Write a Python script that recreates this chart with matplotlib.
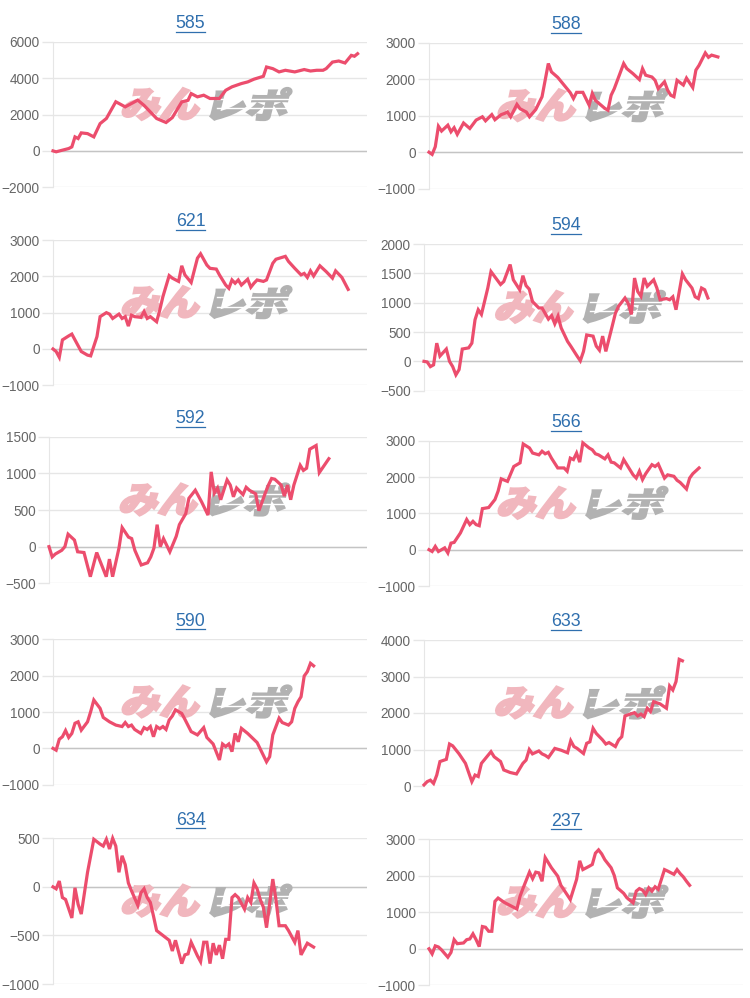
import math

import matplotlib
matplotlib.use("Agg")
import matplotlib.pyplot as plt
import matplotlib.transforms as mtransforms
from matplotlib.font_manager import FontProperties
from matplotlib.lines import Line2D
from matplotlib.patches import PathPatch
from matplotlib.textpath import TextPath

# --- data: running balance per player (day index, balance) ---
p585_day = [0, 1, 5, 6, 7, 8, 9, 11, 13, 15, 17, 20, 23, 27, 29, 33, 36, 38, 41, 43, 44, 46, 48, 50,
            53, 55, 57, 60, 62, 64, 67, 68, 70, 72, 74, 77, 80, 82, 84, 86, 87, 89, 91, 93, 95, 96, 97]
p585_pl = [0, -50, 130, 220, 770, 680, 990, 950, 770, 1500, 1780, 2700, 2420, 2790, 2500, 1780, 1560,
           1830, 2690, 2780, 3150, 2970, 3060, 2880, 2880, 3330, 3520, 3700, 3790, 3940, 4100, 4610,
           4520, 4340, 4430, 4340, 4470, 4390, 4430, 4430, 4520, 4880, 4940, 4830, 5250, 5200, 5340]

p588_day = [0, 1, 2, 3, 4, 6, 7, 8, 9, 11, 13, 15, 17, 18, 20, 21, 23, 24, 25, 26, 28, 29, 31, 32, 34,
            36, 38, 39, 41, 43, 45, 46, 47, 49, 51, 52, 53, 56, 57, 58, 59, 62, 63, 65, 67, 68, 69, 71,
            72, 73, 75, 76, 77, 78, 79, 81, 82, 84, 85, 86, 88, 89, 90, 92]
p588_pl = [0, -60, 150, 710, 580, 740, 560, 670, 490, 800, 650, 880, 970, 860, 1030, 890, 1030, 1060,
           1100, 970, 1310, 1190, 1100, 970, 1170, 1520, 2430, 2200, 2050, 1840, 1630, 1470, 1640, 1640,
           1290, 1610, 1420, 1200, 1150, 1560, 1740, 2430, 2290, 2150, 1990, 2290, 2110, 2060, 1970,
           1740, 1930, 1700, 1560, 1520, 1970, 1840, 2030, 1770, 2250, 2380, 2720, 2600, 2660, 2610]

p621_day = [0, 1, 2, 3, 5, 6, 7, 9, 11, 12, 14, 15, 17, 18, 19, 21, 22, 23, 24, 25, 26, 28, 29, 30, 31,
            33, 34, 35, 37, 38, 40, 41, 42, 44, 46, 47, 49, 50, 52, 53, 55, 56, 57, 58, 59, 60, 62, 63,
            64, 65, 67, 68, 70, 71, 74, 75, 77, 79, 80, 81, 82, 83, 85, 87, 89, 90, 92, 94]
p621_pl = [0, -70, -230, 250, 360, 410, 250, -70, -170, -190, 340, 890, 1000, 960, 840, 960, 840, 890,
           630, 930, 890, 870, 1030, 840, 890, 750, 1070, 1440, 2020, 1950, 1860, 2290, 2040, 1830, 2500,
           2620, 2310, 2220, 2200, 2040, 1760, 1670, 1900, 1810, 1900, 1760, 1920, 1700, 1810, 1900, 1860,
           1900, 2360, 2470, 2550, 2410, 2220, 2040, 2080, 1970, 2150, 2010, 2290, 2130, 1950, 2150,
           1970, 1640]

p594_day = [0, 1, 2, 3, 4, 5, 7, 8, 9, 10, 11, 12, 14, 15, 16, 17, 18, 20, 21, 24, 25, 27, 28, 30, 31,
            32, 33, 34, 36, 37, 39, 40, 41, 42, 43, 45, 46, 48, 49, 50, 51, 53, 54, 55, 56, 57, 59, 60,
            61, 63, 64, 65, 66, 67, 68, 69, 70, 72, 73, 74, 76, 77, 78, 79, 81, 82, 84, 85, 86, 87, 88, 89]
p594_pl = [0, -10, -90, -60, 310, 90, 210, 0, -90, -230, -140, 210, 230, 310, 710, 880, 800, 1250, 1530,
           1310, 1360, 1650, 1390, 1220, 1460, 1290, 1230, 1020, 910, 910, 720, 780, 640, 770, 570, 340,
           260, 90, 10, 170, 450, 430, 260, 190, 430, 170, 600, 820, 940, 1080, 990, 800, 1420, 1190,
           1110, 1420, 1280, 1390, 1250, 1050, 1070, 1050, 1100, 880, 1490, 1390, 1250, 1100, 1070,
           1250, 1220, 1080]

p592_day = [0, 1, 2, 4, 5, 6, 8, 9, 11, 13, 15, 18, 19, 20, 22, 23, 25, 26, 27, 29, 31, 32, 33, 34, 35,
            36, 38, 40, 41, 43, 44, 46, 48, 50, 51, 52, 53, 54, 56, 57, 58, 59, 61, 62, 63, 65, 66, 68,
            69, 70, 71, 73, 74, 75, 76, 77, 79, 80, 81, 82, 84, 85, 88]
p592_pl = [0, -140, -100, -50, 0, 170, 90, -70, -80, -410, -80, -410, -170, -410, -20, 260, 130, 110,
           -50, -250, -220, -140, -20, 300, 0, 110, -70, 140, 300, 450, 660, 770, 610, 430, 1020, 730,
           800, 640, 910, 840, 680, 800, 710, 810, 770, 720, 490, 730, 840, 930, 920, 840, 690, 840, 640,
           840, 1110, 1040, 1070, 1330, 1380, 1010, 1200]

p566_day = [0, 1, 2, 3, 5, 6, 7, 8, 10, 12, 13, 14, 15, 16, 17, 19, 21, 22, 23, 25, 27, 29, 30, 32, 33,
            35, 36, 37, 38, 39, 41, 43, 44, 45, 46, 47, 48, 49, 51, 52, 53, 54, 56, 57, 58, 59, 61, 62,
            63, 65, 66, 67, 68, 69, 71, 72, 73, 75, 76, 78, 79, 80, 82, 83, 84, 86]
p566_pl = [0, -50, 90, -50, 50, -90, 180, 200, 460, 830, 690, 780, 690, 660, 1130, 1160, 1380, 1610,
           1950, 1880, 2290, 2390, 2910, 2800, 2660, 2610, 2710, 2640, 2680, 2520, 2250, 2250, 2160, 2520,
           2480, 2660, 2410, 2940, 2800, 2750, 2640, 2610, 2500, 2610, 2410, 2390, 2250, 2480, 2340, 2060,
           1970, 2160, 1930, 2090, 2340, 2290, 2360, 1970, 2060, 2020, 1910, 1850, 1670, 1970, 2090, 2250]

p590_day = [0, 1, 2, 3, 4, 5, 6, 7, 8, 9, 11, 12, 13, 15, 16, 18, 20, 22, 23, 24, 25, 26, 28, 29, 30,
            31, 32, 33, 34, 35, 36, 37, 38, 39, 41, 42, 44, 46, 48, 49, 51, 53, 54, 55, 56, 57, 58, 59,
            60, 62, 65, 68, 69, 70, 72, 73, 75, 76, 77, 78, 79, 80, 81, 82, 83]
p590_pl = [0, -50, 250, 320, 490, 300, 410, 690, 730, 500, 730, 1010, 1330, 1100, 850, 730, 640, 600,
           710, 600, 640, 520, 410, 570, 520, 600, 320, 600, 540, 600, 520, 780, 890, 1060, 960, 800, 460,
           370, 570, 300, 120, -320, 120, 50, 120, -90, 410, 180, 550, 410, 160, -370, -230, 370, 830, 710,
           640, 730, 1100, 1280, 1420, 1990, 2110, 2340, 2270]

p633_day = [0, 1, 2, 3, 4, 5, 7, 8, 9, 11, 13, 15, 16, 17, 18, 21, 22, 24, 25, 27, 29, 31, 32, 33, 34,
            36, 37, 38, 39, 41, 43, 45, 46, 47, 48, 50, 51, 52, 53, 54, 56, 57, 58, 60, 61, 62, 63, 64,
            66, 67, 68, 69, 70, 71, 72, 74, 75, 76, 77, 78, 79, 80, 81]
p633_pl = [30, 120, 160, 70, 300, 670, 730, 1150, 1100, 880, 620, 120, 300, 260, 620, 940, 800, 670,
           440, 370, 330, 620, 710, 1000, 880, 960, 880, 840, 780, 1030, 980, 910, 1240, 1080, 1030, 890,
           1170, 1210, 1580, 1440, 1260, 1150, 1190, 1080, 1260, 1350, 1920, 1950, 2010, 1920, 1970, 1900,
           2130, 2040, 2310, 2250, 2190, 2130, 2740, 2630, 2860, 3470, 3430]

p634_day = [0, 1, 2, 3, 4, 6, 7, 8, 9, 11, 13, 15, 16, 17, 18, 19, 20, 21, 22, 23, 24, 25, 27, 28, 29,
            30, 31, 32, 33, 35, 37, 38, 39, 41, 42, 43, 44, 46, 47, 48, 49, 50, 51, 52, 53, 54, 55, 56,
            57, 58, 59, 61, 62, 63, 64, 65, 66, 67, 68, 70, 71, 72, 74, 75, 77, 78, 79, 81, 82, 83]
p634_pl = [0, -20, 60, -110, -130, -320, -10, -180, -280, 150, 490, 440, 420, 490, 390, 500, 420, 150,
           320, 230, 40, -40, -190, -60, -20, -110, -160, -300, -450, -500, -550, -660, -550, -790, -700,
           -690, -570, -710, -770, -570, -570, -790, -580, -700, -600, -740, -540, -540, -110, -80, -110,
           -230, -110, -160, 40, -20, -130, -210, -420, 80, -130, -400, -400, -450, -570, -450, -700,
           -580, -600, -620]

p237_day = [0, 1, 2, 3, 4, 6, 7, 8, 9, 11, 12, 13, 14, 15, 16, 17, 18, 19, 20, 21, 22, 24, 26, 28, 29,
            30, 32, 33, 34, 35, 36, 37, 39, 41, 42, 45, 47, 48, 49, 51, 52, 53, 54, 55, 56, 58, 59, 60,
            62, 63, 65, 66, 67, 68, 69, 70, 71, 72, 73, 74, 75, 76, 78, 79, 80, 81, 82, 83]
p237_pl = [0, -140, 80, 50, -30, -230, -100, 250, 140, 160, 250, 270, 410, 250, 60, 610, 590, 480, 480,
           1300, 1390, 1270, 1180, 1090, 1440, 1670, 2100, 1920, 2100, 2080, 1850, 2500, 2220, 1990, 1740,
           1350, 1900, 2410, 2170, 2260, 2310, 2620, 2710, 2600, 2440, 2220, 2010, 1670, 1520, 1400, 1260,
           1580, 1650, 1610, 1490, 1670, 1580, 1700, 1630, 1900, 2170, 2130, 2040, 2170, 2060, 1970, 1850,
           1740]

# player ids and y axis ticks (min, max, step)
players = ["585", "588", "621", "594", "592", "566", "590", "633", "634", "237"]
series = [(p585_day, p585_pl), (p588_day, p588_pl), (p621_day, p621_pl), (p594_day, p594_pl),
          (p592_day, p592_pl), (p566_day, p566_pl), (p590_day, p590_pl), (p633_day, p633_pl),
          (p634_day, p634_pl), (p237_day, p237_pl)]
y_ticks = [(-2000, 6000, 2000), (-1000, 3000, 1000), (-1000, 3000, 1000), (-500, 2000, 500),
           (-500, 1500, 500), (-1000, 3000, 1000), (-1000, 3000, 1000), (0, 4000, 1000),
           (-1000, 500, 500), (-1000, 3000, 1000)]

# --- layout (pixels in the 750x998 image: left, right, top, bottom of plot area) ---
W, H = 750, 998
boxes = [(53, 367, 41.7, 187.3), (429, 743, 42.7, 188.7),
         (53, 367, 240, 385.3), (424, 743, 244, 390.7),
         (49, 367, 436.7, 583.3), (429, 743, 440.7, 586),
         (53, 367, 639.3, 784.7), (424, 743, 640, 786),
         (53, 367, 838.3, 984), (429, 743, 839.3, 985.3)]

LINE = "#ec4d6d"
GRID = "#e6e6e6"
ZERO = "#c4c4c4"
LINK = "#2f6fae"

plt.rcParams["font.family"] = ["Liberation Sans", "DejaVu Sans"]

fig = plt.figure(figsize=(W / 100, H / 100), dpi=100)
px = mtransforms.Affine2D().scale(1 / 100) + fig.dpi_scale_trans

wm_font = FontProperties(family="Noto Sans CJK JP", weight="black")


def word_patch(ax, text, x0, x1, y_top, y_bot, color, slant=14):
    path = TextPath((0, 0), text, size=100, prop=wm_font)
    ext = path.get_extents()
    h = y_bot - y_top
    w = (x1 - x0) - h * math.tan(math.radians(slant))
    t = (mtransforms.Affine2D()
         .translate(-ext.x0, -ext.y0)
         .scale(w / ext.width, h / ext.height)
         .skew_deg(slant, 0)
         .translate(x0, H - y_bot)) + px
    patch = PathPatch(path, transform=t, facecolor=color, edgecolor=color, lw=1.6,
                      joinstyle="miter", zorder=1.5)
    ax.add_artist(patch)


titles = []
for i, (name, (day, pl), (lo, hi, step)) in enumerate(zip(players, series, y_ticks)):
    l, r, t, b = boxes[i]
    ax = fig.add_axes([l / W, 1 - b / H, (r - l) / W, (b - t) / H])
    ax.plot(day, pl, color=LINE, lw=2.3, solid_joinstyle="miter", zorder=3, clip_on=False)
    ax.set_xlim(0, 100)
    ax.set_ylim(lo, hi)
    ax.set_yticks(list(range(lo, hi + 1, step)))
    ax.set_xticks([])
    ax.grid(axis="y", color=GRID, lw=1)
    ax.set_axisbelow(True)
    if lo < 0:
        ax.axhline(0, color=ZERO, lw=1, zorder=1)
    for side in ("top", "right", "bottom"):
        ax.spines[side].set_visible(False)
    ax.spines["left"].set_color(GRID)
    ax.tick_params(axis="y", length=8, width=1, color=GRID, pad=1.5,
                   labelsize=9.8, labelcolor="#666666")
    for tk, v in zip(ax.yaxis.get_major_ticks(), ax.get_yticks()):
        if v == 0 and lo < 0:
            tk.tick1line.set_color(ZERO)

    # watermark
    cx = (l + r) / 2 - 3.5
    cy = (t + b) / 2 - 10.5
    word_patch(ax, "みん", cx - 86, cx - 2, cy - 16, cy + 16, "#f1b7be")
    word_patch(ax, "レポ", cx + 3, cx + 86, cy - 16, cy + 16, "#b2b2b2")
    for f in (0.34, 0.64):
        yy = H - (cy - 16 + 32 * f)
        ax.add_artist(Line2D([cx + 10, cx + 90], [yy, yy], color="white", lw=1.0,
                             zorder=1.6, transform=mtransforms.IdentityTransform()))

    # title (link style)
    col_c = 190.5 if l < 375 else 566
    base = t - 13.5
    txt = fig.text(col_c / W, 1 - base / H, name, ha="center", va="baseline",
                   fontsize=12.8, color=LINK)
    titles.append((txt, base))

fig.canvas.draw()
renderer = fig.canvas.get_renderer()
for txt, base in titles:
    bb = txt.get_window_extent(renderer)
    y = H - (base + 3.5)
    fig.add_artist(Line2D([bb.x0, bb.x1], [y, y], color=LINK, lw=0.9,
                          transform=mtransforms.IdentityTransform()))

fig.savefig("out.png", dpi=100, facecolor="white")
